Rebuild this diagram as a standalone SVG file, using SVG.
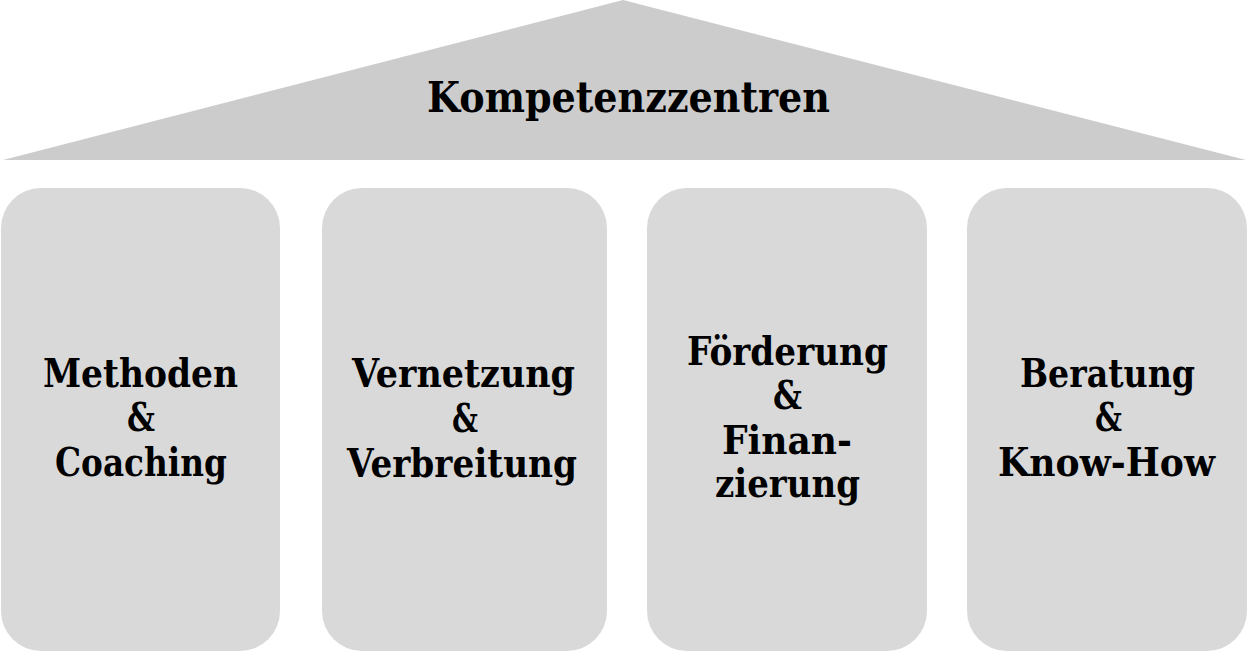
<svg xmlns="http://www.w3.org/2000/svg" width="1248" height="651" viewBox="0 0 1248 651">
<style>
.roof{fill:#cccccc}
.pillar{fill:#d9d9d9}
text{font-family:"DejaVu Serif","Liberation Serif",serif;font-weight:bold;fill:#000;text-anchor:middle}
.t{font-size:43px}
.b{font-size:40px}
</style>
<rect width="1248" height="651" fill="#ffffff"/>
<g id="roof">
<polygon class="roof" points="623,0 1246,160 3,160"/>
<text class="t" x="628.5" y="112" textLength="403" lengthAdjust="spacingAndGlyphs">Kompetenzzentren</text>
</g>
<g id="pillar1">
<rect class="pillar" x="1" y="188" width="279" height="463" rx="40"/>
<text class="b" x="140.5" y="387" textLength="195" lengthAdjust="spacingAndGlyphs">Methoden</text>
<text class="b" x="141" y="431" textLength="28" lengthAdjust="spacingAndGlyphs">&amp;</text>
<text class="b" x="141" y="476" textLength="172" lengthAdjust="spacingAndGlyphs">Coaching</text>
</g>
<g id="pillar2">
<rect class="pillar" x="322" y="188" width="285" height="463" rx="40"/>
<text class="b" x="463.5" y="387" textLength="223" lengthAdjust="spacingAndGlyphs">Vernetzung</text>
<text class="b" x="465" y="432" textLength="26" lengthAdjust="spacingAndGlyphs">&amp;</text>
<text class="b" x="462" y="477" textLength="230" lengthAdjust="spacingAndGlyphs">Verbreitung</text>
</g>
<g id="pillar3">
<rect class="pillar" x="647" y="188" width="280" height="463" rx="40"/>
<text class="b" x="787.5" y="365" textLength="201" lengthAdjust="spacingAndGlyphs">Förderung</text>
<text class="b" x="787.5" y="409" textLength="29" lengthAdjust="spacingAndGlyphs">&amp;</text>
<text class="b" x="787" y="454" textLength="130" lengthAdjust="spacingAndGlyphs">Finan-</text>
<text class="b" x="787.5" y="497" textLength="145" lengthAdjust="spacingAndGlyphs">zierung</text>
</g>
<g id="pillar4">
<rect class="pillar" x="967" y="188" width="280" height="463" rx="40"/>
<text class="b" x="1107.5" y="387" textLength="175" lengthAdjust="spacingAndGlyphs">Beratung</text>
<text class="b" x="1108.5" y="431" textLength="27" lengthAdjust="spacingAndGlyphs">&amp;</text>
<text class="b" x="1106.5" y="476" textLength="217" lengthAdjust="spacingAndGlyphs">Know-How</text>
</g>
<g id="connectors"/>
</svg>
